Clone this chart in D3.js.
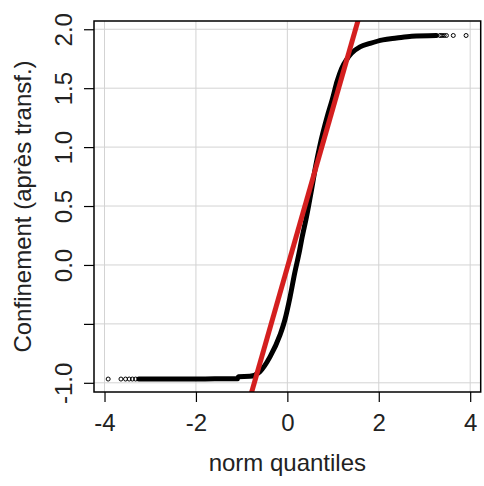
<!DOCTYPE html>
<html>
<head>
<meta charset="utf-8">
<script src="https://cdn.jsdelivr.net/npm/d3@7/dist/d3.min.js"></script>
<style>
  html, body { margin: 0; padding: 0; background: #ffffff; }
  svg { display: block; }
  text { font-family: "Liberation Sans", Arial, sans-serif; fill: #222; }
</style>
</head>
<body>
<script>
// ---- data ----
const xTicks = [-4, -2, 0, 2, 4];
const xTickLabels = ["-4", "-2", "0", "2", "4"];
const yTicks = [-1.0, -0.5, 0.0, 0.5, 1.0, 1.5, 2.0];
const yTickLabels = ["-1.0", "", "0.0", "0.5", "1.0", "1.5", "2.0"];

// dense part of the sample quantiles (drawn as a thick trace of points)
const denseX = [-3.25, -2.5, -1.8, -1.2, -1.09, -1.07, -0.82, -0.6, -0.38, -0.16, -0.055, 0.055, 0.16, 0.27, 0.31, 0.42, 0.53, 0.62, 0.71, 0.87, 0.98, 1.09, 1.19, 1.30, 1.40, 1.59, 1.81, 2.09, 2.39, 2.72, 3.26];
const denseY = [-0.968, -0.968, -0.967, -0.966, -0.966, -0.948, -0.945, -0.905, -0.78, -0.594, -0.467, -0.28, -0.07, 0.127, 0.21, 0.41, 0.64, 0.84, 1.01, 1.256, 1.40, 1.56, 1.67, 1.745, 1.795, 1.85, 1.88, 1.91, 1.925, 1.94, 1.946];

// sparse tail points
const tailX = [-3.92, -3.64, -3.54, -3.46, -3.39, -3.32, 3.34, 3.38, 3.43, 3.48, 3.63, 3.91];
const tailY = [-0.968, -0.968, -0.968, -0.968, -0.968, -0.968, 1.947, 1.947, 1.947, 1.947, 1.947, 1.947];

// reference line (red)
const lineX = [-0.82, 1.58];
const lineY = [-1.132, 2.12];

const xDomain = [-4.23, 4.23];
const yDomain = [-1.078, 2.07];

// ---- layout ----
const W = 484, H = 486;
const L = 94, R = 480.7, T = 21, B = 392;

const svg = d3.select("body").append("svg").attr("width", W).attr("height", H);

const x = d3.scaleLinear().domain(xDomain).range([L, R]);
const y = d3.scaleLinear().domain(yDomain).range([B, T]);

svg.append("defs").append("clipPath").attr("id", "clip")
  .append("rect").attr("x", L).attr("y", T).attr("width", R - L).attr("height", B - T);

// grid
const grid = svg.append("g");
grid.selectAll("line.vx").data(xTicks).enter().append("line")
  .attr("x1", d => x(d)).attr("x2", d => x(d)).attr("y1", T).attr("y2", B)
  .attr("stroke", "#d3d3d3").attr("stroke-width", 1);
grid.selectAll("line.hy").data(yTicks).enter().append("line")
  .attr("y1", d => y(d)).attr("y2", d => y(d)).attr("x1", L).attr("x2", R)
  .attr("stroke", "#d3d3d3").attr("stroke-width", 1);

// axes
const xAxis = d3.axisBottom(x).tickValues(xTicks).tickSize(10).tickPadding(5)
  .tickFormat((d, i) => xTickLabels[i]);
const gx = svg.append("g").attr("transform", `translate(0,${B})`).call(xAxis);
gx.select(".domain").remove();
gx.selectAll("line").attr("stroke", "#000").attr("stroke-width", 1.2);
gx.selectAll("text").attr("font-size", 24).attr("fill", "#222")
  .attr("font-family", "Liberation Sans, Arial, sans-serif")
  .attr("dy", null).attr("y", 39);

const yAxis = d3.axisLeft(y).tickValues(yTicks).tickSize(10)
  .tickFormat((d, i) => yTickLabels[i]);
const gy = svg.append("g").attr("transform", `translate(${L},0)`).call(yAxis);
gy.select(".domain").remove();
gy.selectAll("line").attr("stroke", "#000").attr("stroke-width", 1.2);
gy.selectAll("text").attr("font-size", 24).attr("fill", "#222")
  .attr("font-family", "Liberation Sans, Arial, sans-serif")
  .attr("x", null).attr("dy", null)
  .attr("text-anchor", "middle")
  .attr("transform", "translate(-22,0) rotate(-90)");

// data
const plot = svg.append("g").attr("clip-path", "url(#clip)");

const dense = denseX.map((d, i) => [d, denseY[i]]);
plot.append("path").datum(dense)
  .attr("d", d3.line().x(d => x(d[0])).y(d => y(d[1])).curve(d3.curveMonotoneX))
  .attr("fill", "none").attr("stroke", "#000").attr("stroke-width", 5)
  .attr("stroke-linejoin", "round").attr("stroke-linecap", "round");

const tails = tailX.map((d, i) => [d, tailY[i]]);
plot.selectAll("circle.tail").data(tails).enter().append("circle")
  .attr("cx", d => x(d[0])).attr("cy", d => y(d[1])).attr("r", 2)
  .attr("fill", "none").attr("stroke", "#000").attr("stroke-width", 1);

const refl = lineX.map((d, i) => [d, lineY[i]]);
plot.append("path").datum(refl)
  .attr("d", d3.line().x(d => x(d[0])).y(d => y(d[1])))
  .attr("fill", "none").attr("stroke", "#d41f1f").attr("stroke-width", 5);

// box
svg.append("rect").attr("x", L).attr("y", T).attr("width", R - L).attr("height", B - T)
  .attr("fill", "none").attr("stroke", "#000").attr("stroke-width", 1.5);

// axis titles
svg.append("text").attr("x", (L + R) / 2).attr("y", 471)
  .attr("text-anchor", "middle").attr("font-size", 24).text("norm quantiles");
svg.append("text").attr("transform", `translate(31,${(T + B) / 2}) rotate(-90)`)
  .attr("text-anchor", "middle").attr("font-size", 24).text("Confinement (après transf.)");
</script>
</body>
</html>
